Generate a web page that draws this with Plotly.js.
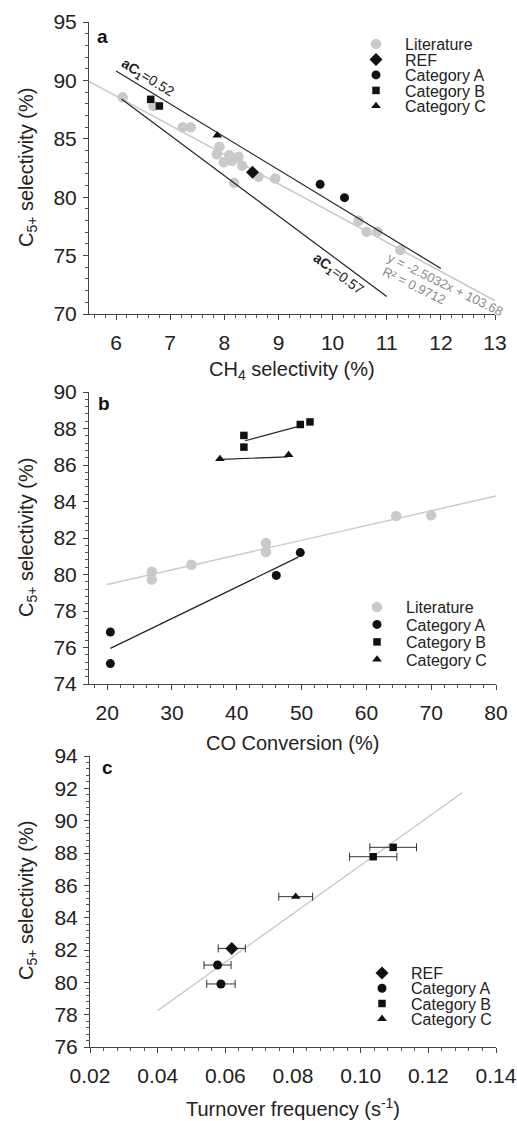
<!DOCTYPE html>
<html><head><meta charset="utf-8">
<script src="https://cdn.plot.ly/plotly-3.0.1.min.js"></script>
<style>html,body{margin:0;padding:0;background:#fff}#chart{width:517px;height:1121px}</style>
</head><body><div id="chart"></div>
<script>
// ---------- Panel a : C5+ selectivity vs CH4 selectivity ----------
const aLitX = [6.12, 6.69, 7.23, 7.38, 7.91, 7.86, 8.09, 8.26, 7.99, 8.14, 8.33, 8.63, 8.94, 8.18, 10.48, 10.63, 10.83, 11.25];
const aLitY = [88.55, 87.8, 85.98, 85.98, 84.33, 83.67, 83.59, 83.47, 82.99, 83.1, 82.7, 81.75, 81.6, 81.24, 77.99, 77.05, 77.05, 75.48];
const aRefX = [8.52];
const aRefY = [82.13];
const aCatAX = [9.77, 10.22];
const aCatAY = [81.1, 79.96];
const aCatBX = [6.64, 6.80];
const aCatBY = [88.38, 87.81];
const aCatCX = [7.87];
const aCatCY = [85.3];
const aFitX = [5.5, 13.0];
const aFitY = [89.91, 71.14];
const aLine052X = [6.0, 12.0];
const aLine052Y = [90.8, 73.9];
const aLine057X = [6.1, 11.0];
const aLine057Y = [88.4, 71.5];

// ---------- Panel b : C5+ selectivity vs CO conversion ----------
const bLitX = [26.9, 26.9, 33.0, 44.5, 44.5, 64.6, 70.0];
const bLitY = [80.15, 79.73, 80.53, 81.72, 81.23, 83.2, 83.24];
const bCatAX = [20.5, 20.5, 46.1, 49.8];
const bCatAY = [76.85, 75.12, 79.95, 81.2];
const bCatBX = [41.1, 41.1, 49.8, 51.3];
const bCatBY = [87.62, 86.98, 88.22, 88.36];
const bCatCX = [37.4, 48.0];
const bCatCY = [86.33, 86.55];
const bLitFitX = [20, 80];
const bLitFitY = [79.45, 84.3];
const bAFitX = [20.5, 49.5];
const bAFitY = [75.95, 80.95];
const bBFitX = [41.3, 49.8];
const bBFitY = [87.33, 88.14];
const bCFitX = [37.5, 47.8];
const bCFitY = [86.31, 86.45];

// ---------- Panel c : C5+ selectivity vs TOF ----------
const cRefX = [0.0619];  const cRefY = [82.1];  const cRefErr = [0.004];
const cCatAX = [0.0577, 0.0587]; const cCatAY = [81.07, 79.9]; const cCatAErr = [0.004, 0.0042];
const cCatBX = [0.1096, 0.1037]; const cCatBY = [88.35, 87.77]; const cCatBErr = [0.0069, 0.007];
const cCatCX = [0.0808]; const cCatCY = [85.3]; const cCatCErr = [0.005];
const cFitX = [0.04, 0.13];
const cFitY = [78.25, 91.73];

const BLACK = '#111111', GREY = '#c9c9c9', LINEBLK = '#222222';
const FONT = 'Liberation Sans, Arial, Helvetica, sans-serif';

function line(x, y, color, xa, ya, w) {
  return {x, y, mode: 'lines', line: {color, width: w || 1.2}, xaxis: xa, yaxis: ya, showlegend: false, hoverinfo: 'skip'};
}
function pts(x, y, name, symbol, color, size, xa, ya, leg, err) {
  const t = {x, y, name, mode: 'markers', marker: {symbol, color, size, line: {width: 0}},
    xaxis: xa, yaxis: ya, legend: leg};
  if (err) t.error_x = {type: 'data', array: err, visible: true, color: '#333', thickness: 1, width: 4};
  return t;
}

const traces = [
  // panel a
  line(aFitX, aFitY, GREY, 'x', 'y', 1.6),
  pts(aLitX, aLitY, 'Literature', 'circle', GREY, 10.5, 'x', 'y', 'legend'),
  line(aLine052X, aLine052Y, LINEBLK, 'x', 'y', 1.2),
  line(aLine057X, aLine057Y, LINEBLK, 'x', 'y', 1.2),
  pts(aRefX, aRefY, 'REF', 'diamond', BLACK, 10, 'x', 'y', 'legend'),
  pts(aCatAX, aCatAY, 'Category A', 'circle', BLACK, 9, 'x', 'y', 'legend'),
  pts(aCatBX, aCatBY, 'Category B', 'square', BLACK, 7.5, 'x', 'y', 'legend'),
  pts(aCatCX, aCatCY, 'Category C', 'triangle-up', BLACK, 8.5, 'x', 'y', 'legend'),
  // panel b
  line(bLitFitX, bLitFitY, GREY, 'x2', 'y2', 1.4),
  line(bAFitX, bAFitY, LINEBLK, 'x2', 'y2', 1.2),
  line(bBFitX, bBFitY, LINEBLK, 'x2', 'y2', 1.2),
  line(bCFitX, bCFitY, LINEBLK, 'x2', 'y2', 1.2),
  pts(bLitX, bLitY, 'Literature', 'circle', GREY, 10.5, 'x2', 'y2', 'legend2'),
  pts(bCatAX, bCatAY, 'Category A', 'circle', BLACK, 9, 'x2', 'y2', 'legend2'),
  pts(bCatBX, bCatBY, 'Category B', 'square', BLACK, 7.5, 'x2', 'y2', 'legend2'),
  pts(bCatCX, bCatCY, 'Category C', 'triangle-up', BLACK, 8.5, 'x2', 'y2', 'legend2'),
  // panel c
  line(cFitX, cFitY, GREY, 'x3', 'y3', 1.4),
  pts(cRefX, cRefY, 'REF', 'diamond', BLACK, 10, 'x3', 'y3', 'legend3', cRefErr),
  pts(cCatAX, cCatAY, 'Category A', 'circle', BLACK, 9, 'x3', 'y3', 'legend3', cCatAErr),
  pts(cCatBX, cCatBY, 'Category B', 'square', BLACK, 7.5, 'x3', 'y3', 'legend3', cCatBErr),
  pts(cCatCX, cCatCY, 'Category C', 'triangle-up', BLACK, 8.5, 'x3', 'y3', 'legend3', cCatCErr)
];

const tickFont = {family: FONT, size: 21, color: '#222'};
function xax(domain, range, dtick, minor, anchor, fmt) {
  return {domain, range, dtick, tick0: 0, anchor, showline: true, linecolor: '#444', linewidth: 1,
    ticks: 'outside', ticklen: 5, tickcolor: '#444', tickfont: tickFont, ticklabelstandoff: 5,
    showgrid: false, zeroline: false, tickformat: fmt || '',
    minor: {dtick: minor, tick0: 0, ticks: 'outside', ticklen: 3, tickcolor: '#555', showgrid: false}};
}
function yax(domain, range, dtick, minor, anchor) {
  return {domain, range, dtick, tick0: 0, anchor, showline: true, linecolor: '#444', linewidth: 1,
    ticks: 'outside', ticklen: 5, tickcolor: '#444', tickfont: tickFont, ticklabelstandoff: 2,
    showgrid: false, zeroline: false,
    minor: {dtick: minor, tick0: 0, ticks: 'outside', ticklen: 3, tickcolor: '#555', showgrid: false}};
}

const W = 517, H = 1121;
const px = v => v / W, py = v => 1 - v / H;
const titleFont = {family: FONT, size: 20, color: '#222'};
const legFont = {family: FONT, size: 16, color: '#222'};
const letterFont = {family: FONT, size: 19, color: '#111'};

function pa(text, x, y, font, angle) {
  return {text, x: px(x), y: py(y), xref: 'paper', yref: 'paper', xanchor: 'center', yanchor: 'middle',
    showarrow: false, textangle: angle || 0, font};
}
function da(text, x, y, font, angle, xa, ya) {
  return {text, x, y, xref: xa, yref: ya, xanchor: 'center', yanchor: 'middle', showarrow: false, textangle: angle, font};
}

const layout = {
  width: W, height: H,
  margin: {l: 0, r: 0, t: 0, b: 0},
  paper_bgcolor: '#fff', plot_bgcolor: '#fff',
  font: {family: FONT, color: '#222'},
  xaxis: xax([px(89), px(495)], [5.5, 13], 1, 0.2, 'y'),
  yaxis: yax([py(314), py(22)], [70, 95], 5, 1, 'x'),
  xaxis2: xax([px(89), px(496)], [17.2, 80], 10, 2, 'y2'),
  yaxis2: yax([py(684), py(392)], [74, 90], 2, 0.4, 'x2'),
  xaxis3: xax([px(90), px(496)], [0.02, 0.14], 0.02, 0.004, 'y3', '.2f'),
  yaxis3: yax([py(1047), py(756)], [76, 94], 2, 0.4, 'x3'),
  legend: {x: px(347), y: py(27), xanchor: 'left', yanchor: 'top', font: legFont, bgcolor: 'rgba(0,0,0,0)', itemwidth: 48},
  legend2: {x: px(348), y: py(590), xanchor: 'left', yanchor: 'top', font: legFont, bgcolor: 'rgba(0,0,0,0)', itemwidth: 48},
  legend3: {x: px(353), y: py(956), xanchor: 'left', yanchor: 'top', font: legFont, bgcolor: 'rgba(0,0,0,0)', itemwidth: 48},
  annotations: [
    // panel letters
    pa('<b>a</b>', 102, 36, letterFont),
    pa('<b>b</b>', 104, 403, letterFont),
    pa('<b>c</b>', 107, 768, letterFont),
    // axis titles
    pa('C<sub>5+</sub> selectivity (%)', 27, 168, titleFont, -90),
    pa('C<sub>5+</sub> selectivity (%)', 27, 538, titleFont, -90),
    pa('C<sub>5+</sub> selectivity (%)', 27, 901, titleFont, -90),
    pa('CH<sub>4</sub> selectivity (%)', 292, 371, titleFont),
    pa('CO Conversion (%)', 292, 743, titleFont),
    pa('Turnover frequency (s<sup>-1</sup>)', 293, 1107, titleFont),
    // panel a line labels
    da('<b>aC<sub>1</sub></b>=0.52', 6.58, 90.2, {family: FONT, size: 14, color: '#222'}, 32, 'x', 'y'),
    da('<b>aC<sub>1</sub></b>=0.57', 10.1, 73.45, {family: FONT, size: 14, color: '#222'}, 37, 'x', 'y'),
    da('y = -2.5032x + 103.68', 12.08, 72.5, {family: FONT, size: 13, color: '#8a8a8a'}, 26, 'x', 'y'),
    da('R² = 0.9712', 11.5, 72.45, {family: FONT, size: 13, color: '#8a8a8a'}, 26, 'x', 'y')
  ]
};

// compact legend row spacing (the reference legends are tighter than Plotly's default)
const legendSteps = {legend: 15.5, legend2: 17.5, legend3: 15.3};

Plotly.newPlot('chart', traces, layout, {displayModeBar: false, staticPlot: true}).then(gd => {
  Object.keys(legendSteps).forEach(id => {
    const g = gd.querySelector('g.' + id);
    if (!g) return;
    const items = g.querySelectorAll('g.traces');
    let y0 = null;
    items.forEach((it, i) => {
      const m = /translate\(\s*([-\d.]+)[ ,]+([-\d.]+)\s*\)/.exec(it.getAttribute('transform') || '');
      if (!m) return;
      if (y0 === null) y0 = parseFloat(m[2]);
      it.setAttribute('transform', 'translate(' + m[1] + ',' + (y0 + i * legendSteps[id]) + ')');
    });
  });
});
</script></body></html>
